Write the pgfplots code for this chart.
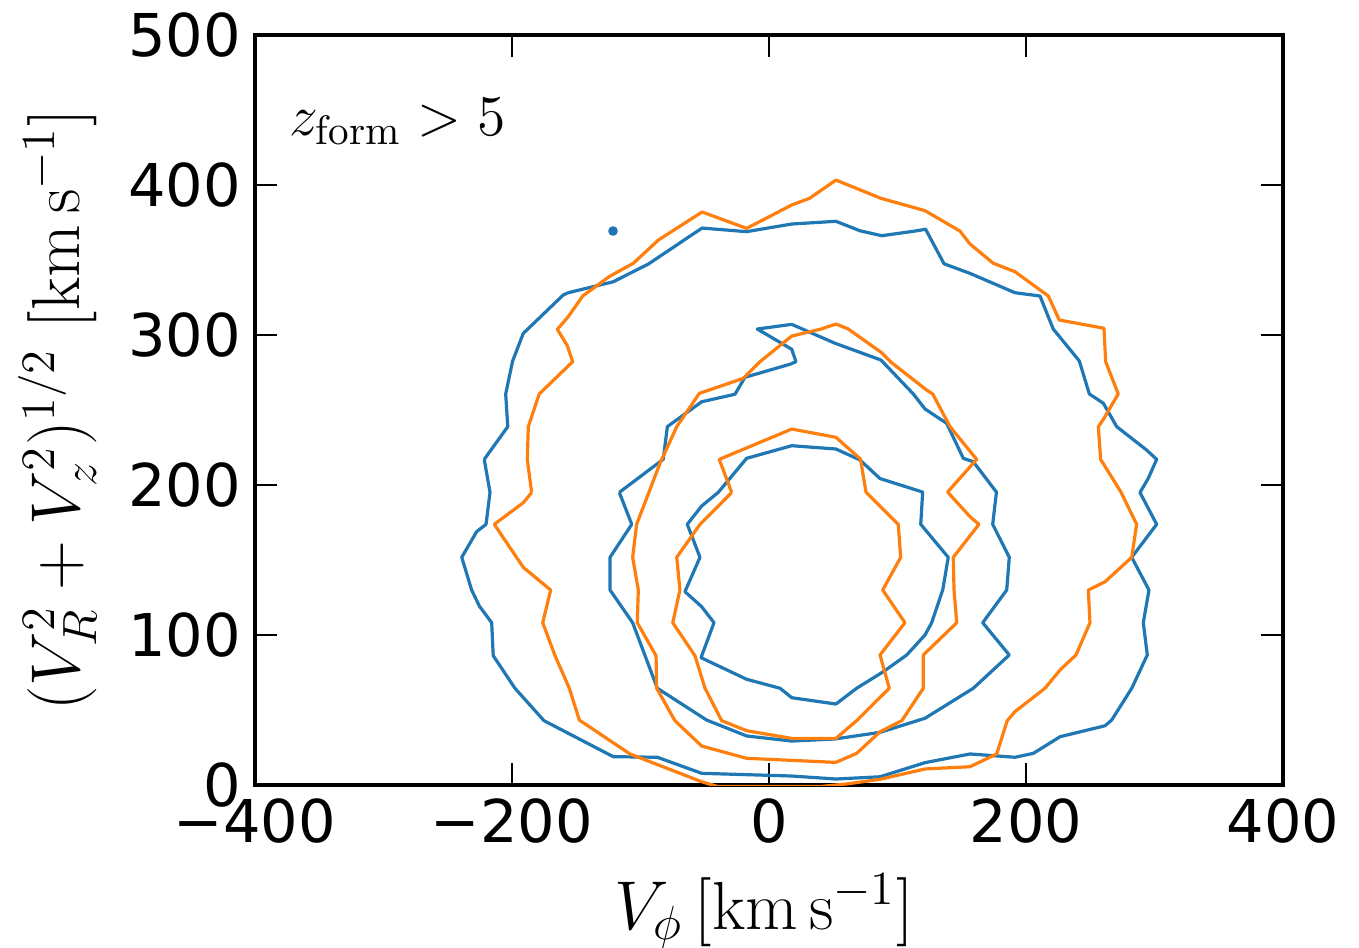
\documentclass[border=0pt]{standalone}
\usepackage{fontspec}
\usepackage{pgfplots}
\pgfplotsset{compat=1.18}
\newfontfamily\tickfont{DejaVu Sans}
\definecolor{tabblue}{HTML}{1F77B4}
\definecolor{taborange}{HTML}{FF7F0E}

\begin{document}
\begin{tikzpicture}
% fixes the page to the reference's proportions (4 px per pt)
\useasboundingbox (-63.75pt,-40.5pt) rectangle (276pt,196.25pt);
\begin{axis}[
  at={(0,0)}, anchor=south west,
  scale only axis, width=257pt, height=187.5pt,
  xmin=-400, xmax=400, ymin=0, ymax=500,
  xtick={-400,-200,0,200,400},
  xticklabels={−400,−200,0,200,400},
  ytick={0,100,200,300,400,500},
  yticklabels={0,100,200,300,400,500},
  tick align=inside,
  xtick pos=both, ytick pos=both,
  major tick length=5.5pt,
  every tick/.style={black, line width=0.4pt},
  axis line style={line width=0.8pt},
  tick label style={font=\fontsize{14.75}{17}\tickfont},
  xlabel={$V_\phi\,[\mathrm{km\,s^{-1}}]$},
  ylabel={$(V_R^2+V_z^2)^{1/2}\ [\mathrm{km\,s^{-1}}]$},
  label style={font=\fontsize{17}{20}\selectfont},
  xlabel style={at={(axis description cs:0.495,-0.168)}, anchor=center},
  ylabel style={at={(axis description cs:-0.192,0.5)}, anchor=center},
  every axis plot/.append style={line width=0.8pt, line join=round},
]
\addplot[tabblue] coordinates {
(-221.6,217.1) (-203.3,238.9) (-204.9,260.7) (-199.5,282.7) (-191.2,301.1) (-160.1,326.7) (-156.2,328.2) (-121.2,335.5) (-93.9,347.3) (-52.1,371.3) (-17.4,368.9) (17.7,374) (52.1,375.8) (70.8,369.5) (87.7,366.2) (113.6,369.3) (121.9,370.5) (136.2,347.5) (156.4,341.1) (191.4,328.2) (210.9,326) (221.2,304) (241.5,282.7) (249.3,260.7) (260.2,254.5) (270.6,238.9) (293.9,223.3) (301.7,217.1) (295.2,204.5) (288.7,195) (301.7,173.8) (282.3,151.8) (295.7,130) (291.3,108.2) (294.4,86.7) (282.3,64.5) (266.7,43.3) (261.5,39.5) (226.5,32.2) (205.7,21.1) (191.4,18.5) (156.4,20.7) (121.4,14.9) (86.4,5.5) (52.1,4) (17.7,6) (-52.4,7.8) (-86.9,18.5) (-121.2,18.9) (-175.1,42.9) (-197.7,64.5) (-214.6,86.2) (-215.8,108.2) (-225.4,119.3) (-231.4,130) (-239.1,151.8) (-227.5,168.9) (-220.2,173.8) (-217.1,195.1) (-221.6,217.1)
};
\addplot[tabblue] coordinates {
(-116.5,195.1) (-82.3,217.1) (-79.1,238.9) (-52.4,255.5) (-26.5,260.5) (-18.7,271.8) (16.3,280.5) (21,282.2) (17.7,290.5) (-9.1,304) (17.7,307.1) (51.4,294.5) (87.2,283.3) (112.3,260.7) (121.4,250.7) (138.3,241.1) (151.2,217.8) (159,215.5) (177,195.3) (174.1,173.8) (187,151.8) (185,130) (166.3,108.2) (187,86.7) (159,64.5) (121.4,44.5) (86.4,35.1) (51.4,30.7) (17.7,29.3) (-17.4,32.7) (-48.5,43.3) (-86.9,64.5) (-106.1,108.2) (-123.7,130) (-123.7,151.8) (-106.8,173.8) (-116.5,195.1)
};
\addplot[tabblue] coordinates {
(-39.5,195.1) (-17.4,217.8) (17.7,226.2) (52.1,224) (70.8,216.7) (86.4,204.3) (119.6,195.3) (118.1,173.8) (139.5,151.8) (135.2,130) (126.6,108.2) (121.4,100) (107.2,86.7) (88.9,75.5) (68.2,64.5) (52.1,54) (17.7,58.2) (8.6,64.5) (-17.4,70.5) (-52.9,84.9) (-42.8,108.2) (-52.4,118.9) (-65.4,128.9) (-53.7,151.8) (-63.6,173.8) (-52.4,186) (-39.5,195.1)
};
\addplot[tabblue, only marks, mark=*, mark size=0.8pt] coordinates {(-121.4,369.3)};
\addplot[taborange] coordinates {
(-184.7,195) (-188.1,217.1) (-187.3,238.9) (-178.8,260.7) (-152.8,282.2) (-157,292.9) (-164.7,303.8) (-156.2,312.2) (-145,326) (-123.7,339.3) (-105.6,347.8) (-86.1,363.3) (-52.1,382) (-17.4,371.1) (17.7,386.7) (31.5,391.1) (52.1,403.3) (87.2,391.1) (121.4,382.9) (148.6,369.3) (156.4,360.7) (174.6,347.8) (191.4,342.2) (217.4,326) (225.9,310) (260.7,304.5) (262,282.2) (271.8,260.7) (260.2,243.8) (256.3,238.9) (258.1,217.1) (273.9,195.3) (286.1,173.8) (282.3,151.8) (261.5,135.5) (248.5,130) (249.8,108.2) (238.9,86.7) (226.5,76.7) (214.8,64.5) (191.4,48.9) (185.4,42.9) (177.2,20.7) (156.4,12.2) (121.4,10.7) (86.4,3.8) (60.5,0.7) (40,-1) (-40,-1) (-52.4,2.2) (-108.2,20.7) (-147.6,43.3) (-155.4,64.5) (-166.5,86.2) (-176.1,108.2) (-169.9,130) (-191.2,145.1) (-213.8,173.8) (-191.2,188.2) (-184.7,195)
};
\addplot[taborange] coordinates {
(-103,173.8) (-84.8,214.5) (-71.8,238.9) (-54.2,261.1) (-20,271.1) (-7,282.2) (17.7,299.3) (39.7,303.8) (52.1,307.3) (61.3,304.2) (87.2,288.5) (95.5,281.5) (122.7,263.3) (127.4,260.7) (140.9,238.9) (161.6,217.1) (139,195.3) (156.4,178.9) (163.4,173.8) (143.4,151.8) (144,130) (146.1,108.2) (120.1,86.7) (120.1,64.5) (103.3,42.9) (86.4,35.5) (68.2,21.1) (52,15.1) (-17.4,17.8) (-52.4,26) (-73.2,42.9) (-87.4,64.5) (-87.9,86.2) (-102.5,108.2) (-101.7,130) (-106.1,151.8) (-103,173.8)
};
\addplot[taborange] coordinates {
(-29,195) (-38.7,217.1) (17.7,237.3) (52.1,231.8) (71.2,217.3) (75.5,195.3) (100.6,173.8) (102.5,151.8) (88.5,130) (105.8,108.2) (86.4,86.7) (93.6,64.5) (68.2,42.9) (52.1,31.1) (17.7,31.1) (-17.4,36.2) (-36.8,42.9) (-49.8,64.5) (-57.6,86.2) (-74.9,108.2) (-69.3,130) (-71.8,151.8) (-53.7,173.8) (-29,195)
};
\node[anchor=base west, font=\fontsize{14.7}{17}\selectfont] at (axis description cs:0.02,0.866) {$z_{\mathrm{form}} > 5$};
\end{axis}
\end{tikzpicture}
\end{document}
